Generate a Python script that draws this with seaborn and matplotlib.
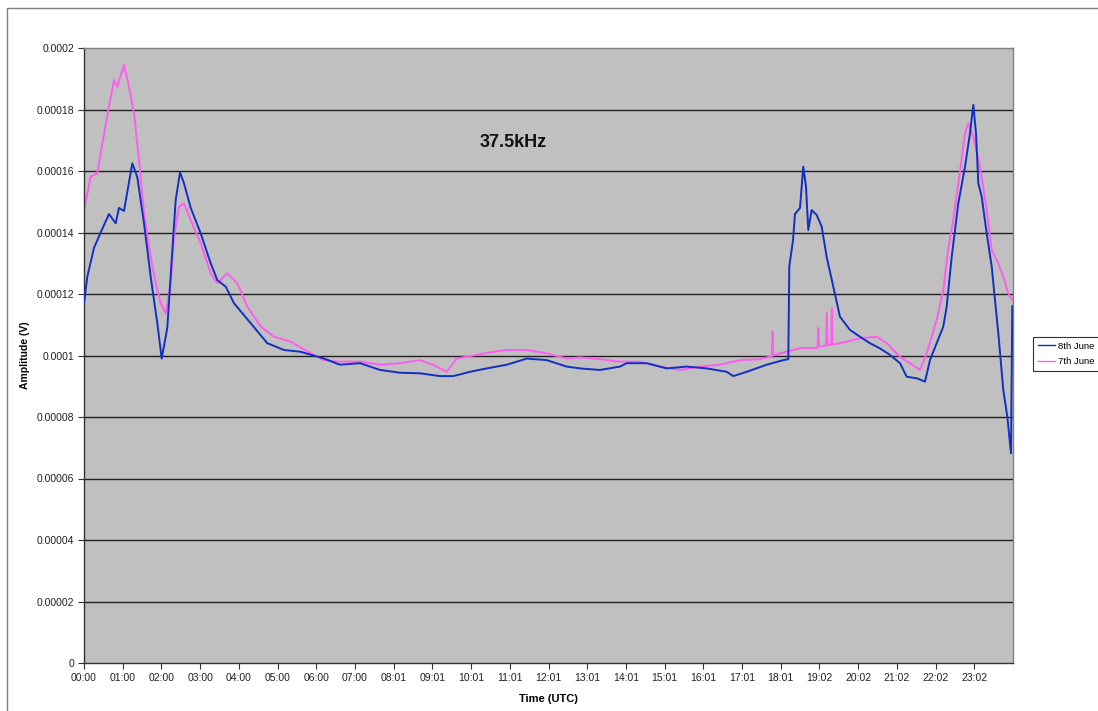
import matplotlib
matplotlib.use("Agg")
import matplotlib.pyplot as plt
from matplotlib.patches import Rectangle
import seaborn as sns
import pandas as pd
import numpy as np

# ---- data (time in hours, amplitude in units of 1e-6 V) ----
jun8_hours = [0.000, 0.085, 0.258, 0.431, 0.646, 0.819, 0.904, 1.033, 1.248, 1.377,
              1.550, 1.723, 1.894, 2.007, 2.152, 2.281, 2.369, 2.480, 2.583, 2.757,
              3.015, 3.273, 3.444, 3.661, 3.875, 4.307, 4.735, 5.167, 5.598, 6.200,
              6.613, 7.130, 7.647, 8.164, 8.680, 9.197, 9.541, 9.972, 10.403, 10.920,
              11.437, 11.953, 12.470, 12.814, 13.330, 13.847, 14.020, 14.537, 15.053, 15.570,
              16.087, 16.604, 16.774, 17.120, 17.637, 18.066, 18.195, 18.221, 18.317, 18.368,
              18.497, 18.582, 18.652, 18.711, 18.799, 18.928, 19.058, 19.187, 19.357, 19.530,
              19.789, 20.047, 20.305, 20.564, 20.822, 21.080, 21.253, 21.512, 21.726, 21.855,
              22.028, 22.199, 22.287, 22.416, 22.587, 22.760, 22.889, 22.975, 23.044, 23.104,
              23.192, 23.321, 23.450, 23.535, 23.621, 23.749, 23.853, 23.948, 23.982]
jun8_uv = [117, 125.6, 135, 140, 146, 143, 148, 147, 162.5, 158,
           143, 125.6, 110.5, 99, 109, 134, 150.6, 159.5, 156, 148,
           139.7, 130, 124.5, 122.4, 117, 110.5, 104, 101.8, 101.2, 99,
           97, 97.5, 95.3, 94.4, 94.2, 93.3, 93.3, 94.7, 95.8, 97,
           99, 98.5, 96.4, 95.8, 95.3, 96.4, 97.5, 97.5, 95.8, 96.4,
           95.8, 94.7, 93.3, 94.7, 97, 98.5, 98.8, 129, 137.6, 146,
           148, 161.4, 155, 140.8, 147.3, 145.7, 141.9, 132, 122.4, 112.6,
           108.3, 106.1, 104, 102.3, 100.2, 97.5, 93.1, 92.6, 91.5, 98.5,
           104, 109.4, 115.9, 132, 149.5, 161.4, 172.3, 181.5, 172.3, 156,
           151.6, 139.7, 128.9, 118, 107.2, 88.8, 80.1, 68.2, 116]

jun7_hours = [0.000, 0.173, 0.344, 0.473, 0.646, 0.775, 0.860, 1.033, 1.163, 1.292,
              1.421, 1.550, 1.723, 1.852, 1.981, 2.111, 2.240, 2.325, 2.454, 2.583,
              2.757, 3.015, 3.273, 3.444, 3.702, 3.960, 4.219, 4.565, 4.909, 5.340,
              5.857, 6.200, 6.613, 7.130, 7.647, 8.164, 8.680, 9.016, 9.370, 9.628,
              10.057, 10.574, 10.920, 11.437, 11.953, 12.470, 12.814, 13.330, 13.847, 14.364,
              14.880, 15.397, 15.914, 16.430, 16.947, 17.463, 17.770, 17.790, 17.810, 17.981,
              18.497, 18.950, 18.970, 18.990, 19.014, 19.170, 19.190, 19.210, 19.300, 19.320,
              19.340, 19.530,
              20.047, 20.478, 20.736, 21.080, 21.339, 21.597, 21.770, 22.028, 22.199, 22.322,
              22.457, 22.613, 22.760, 22.846, 22.975, 23.147, 23.321, 23.450, 23.621, 23.749,
              23.878, 23.982]
jun7_uv = [147.3, 158.2, 159.2, 169, 181, 189.6, 187.4, 194.5, 187.4, 178.8,
           163.6, 146.3, 132, 123.5, 117, 113.7, 123.5, 138.6, 148.4, 149.5,
           144, 136.5, 126.7, 123.5, 126.7, 123.5, 115.9, 109.4, 106.1, 104.5,
           100.7, 98.5, 98, 98, 97, 97.5, 98.5, 97, 94.7, 99,
           100, 101.2, 101.8, 101.8, 100.7, 99, 99.4, 98.8, 98, 98,
           96.4, 95.3, 96.4, 97, 98.5, 98.8, 99.8, 107.8, 100, 100.7,
           102.4, 102.5, 109, 102.8, 102.9, 103.2, 113.8, 103.3, 103.5, 115.4,
           103.6, 104,
           105.6, 106.1, 104, 99.6, 97.5, 95.3, 100.7, 111.5, 121.3, 134.3,
           144.1, 158.2, 172.3, 175.5, 171.2, 161.4, 147.3, 134.3, 130, 125.6,
           120.2, 118]

tick_labels = ["00:00", "01:00", "02:00", "03:00", "04:00", "05:00", "06:00", "07:00",
               "08:01", "09:01", "10:01", "11:01", "12:01", "13:01", "14:01", "15:01",
               "16:01", "17:01", "18:01", "19:02", "20:02", "21:02", "22:02", "23:02"]
y_ticks = [0, 0.00002, 0.00004, 0.00006, 0.00008, 0.0001, 0.00012, 0.00014,
           0.00016, 0.00018, 0.0002]
y_labels = ["0", "0.00002", "0.00004", "0.00006", "0.00008", "0.0001", "0.00012",
            "0.00014", "0.00016", "0.00018", "0.0002"]

df8 = pd.DataFrame({"t": jun8_hours, "v": np.array(jun8_uv) * 1e-6})
df7 = pd.DataFrame({"t": jun7_hours, "v": np.array(jun7_uv) * 1e-6})

plt.rcParams["font.family"] = ["Liberation Sans", "DejaVu Sans"]

W, H = 1098, 711
fig = plt.figure(figsize=(W / 100, H / 100), dpi=100)
fig.patch.set_facecolor("white")

# chart area border (extends past right/bottom edges)
fig.patches.append(Rectangle((7 / W, -0.05), 1.2, 1 - 8 / H + 0.05, transform=fig.transFigure,
                             fill=False, edgecolor="#808080", linewidth=1.0))

ax = fig.add_axes([84 / W, 1 - 663 / H, (1013 - 84) / W, (663 - 48) / H])
ax.set_facecolor("#C0C0C0")

for yt in y_ticks[1:-1]:
    ax.axhline(yt, color="#202020", linewidth=1.0, zorder=1)

sns.lineplot(data=df8, x="t", y="v", ax=ax, color="#1230c0", linewidth=1.4,
             label="8th June", sort=False, estimator=None, zorder=3)
sns.lineplot(data=df7, x="t", y="v", ax=ax, color="#ff5cf0", linewidth=1.4,
             label="7th June", sort=False, estimator=None, zorder=2)

ax.set_xlim(0, 24)
ax.set_ylim(0, 0.0002)
ax.set_xticks(range(len(tick_labels)))
ax.set_xticklabels(tick_labels, fontsize=7.5, color="#222222")
ax.set_yticks(y_ticks)
ax.set_yticklabels(y_labels, fontsize=7.5, color="#222222")
ax.tick_params(axis="both", direction="out", length=4, width=0.8, color="#333333", pad=3)

for side in ["top", "right"]:
    ax.spines[side].set_color("#808080")
    ax.spines[side].set_linewidth(1.0)
for side in ["left", "bottom"]:
    ax.spines[side].set_color("#333333")
    ax.spines[side].set_linewidth(1.0)

ax.set_xlabel("Time (UTC)", fontsize=8, fontweight="bold", labelpad=8)
ax.set_ylabel("Amplitude (V)", fontsize=7.5, fontweight="bold")
ax.yaxis.set_label_coords((30 - 84) / 929, 0.5)

ax.text(11.08, 0.0001694, "37.5kHz", fontsize=13, fontweight="bold", ha="center", va="center",
        color="#111111")

leg = ax.legend(loc="upper left", bbox_to_anchor=(1033 / W, 1 - 337 / H),
                bbox_transform=fig.transFigure, frameon=True, fancybox=False,
                fontsize=6.8, handlelength=1.8, borderpad=0.5, labelspacing=0.7,
                handletextpad=0.3, borderaxespad=0.0)
leg.get_frame().set_edgecolor("#000000")
leg.get_frame().set_linewidth(0.8)
for line in leg.get_lines():
    line.set_linewidth(1.0)

fig.savefig("out.png", dpi=100)
